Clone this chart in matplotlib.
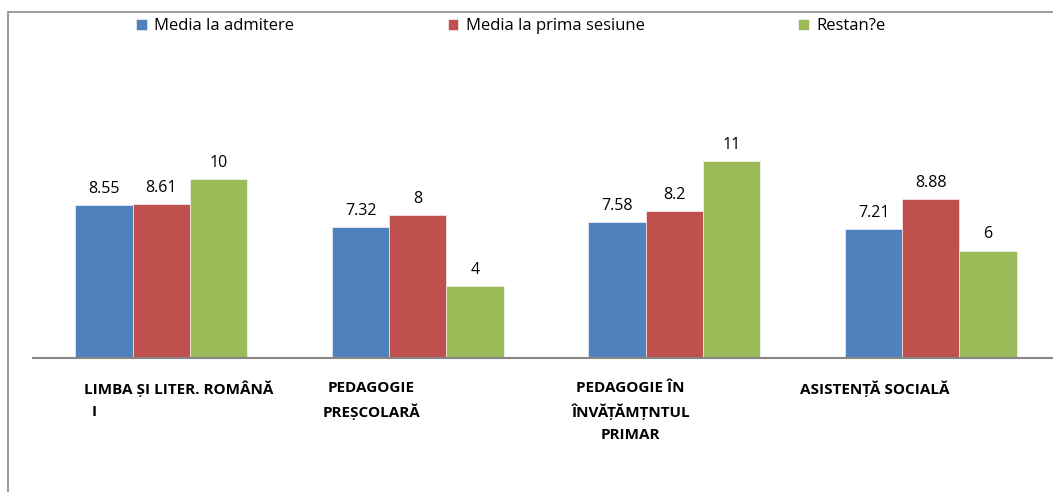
import matplotlib.pyplot as plt
from matplotlib.patches import Rectangle
import numpy as np

plt.rcParams['font.family'] = ['Open Sans', 'DejaVu Sans']

categories = ['LIMBA ȘI LITER. ROMÂNĂ\n  I', 'PEDAGOGIE\nPREȘCOLARĂ',
              'PEDAGOGIE ÎN\nÎNVĂȚĂMȚNTUL\nPRIMAR', 'ASISTENȚĂ SOCIALĂ']
series_names = ['Media la admitere', 'Media la prima sesiune', 'Restan?e']
media_admitere = [8.55, 7.32, 7.58, 7.21]
media_sesiune = [8.61, 8, 8.2, 8.88]
restante = [10, 4, 11, 6]
colors = ['#4F81BD', '#C0504D', '#9BBB59']

fig = plt.figure(figsize=(10.53, 4.92), dpi=100)
ax = fig.add_axes([33 / 1053, 1 - 358 / 492, (1059 - 33) / 1053, (358 - 36) / 492])

# outer chart border
fig.patches.append(Rectangle((8 / 1053, -0.1), 1.1, 1 - 12 / 492 + 0.1,
                             transform=fig.transFigure, fill=False,
                             edgecolor='#8c8c8c', linewidth=1.2))

x = np.arange(len(categories))
w = 0.223
data = [media_admitere, media_sesiune, restante]
for i, (vals, name, c) in enumerate(zip(data, series_names, colors)):
    bars = ax.bar(x + (i - 1) * w, vals, w, color=c, label=name,
                  edgecolor='white', linewidth=0.4)
    ax.bar_label(bars, fmt='%g', padding=6, fontsize=11.5)

ax.set_xlim(-0.5, 3.5)
ax.set_ylim(0, 18)
for s in ['top', 'right', 'left']:
    ax.spines[s].set_visible(False)
ax.spines['bottom'].set_color('#868686')
ax.spines['bottom'].set_linewidth(1.5)
ax.set_xticks([])
ax.set_yticks([])

# category labels
offsets = [-0.30, -0.18, -0.17, -0.22]
for i, (lab, off) in enumerate(zip(categories, offsets)):
    if i == 0:
        ax.text(i + off, -0.07, lab, transform=ax.get_xaxis_transform(),
                ha='left', va='top', fontsize=11, fontweight='bold',
                linespacing=1.7)
    else:
        ax.text(i + off, -0.07, lab, transform=ax.get_xaxis_transform(),
                ha='center', va='top', fontsize=11, fontweight='bold',
                multialignment='center', linespacing=1.7)

fig.legend(loc='center left', bbox_to_anchor=(121 / 1053, 1 - 26 / 492),
           ncol=3, frameon=False, fontsize=12, handlelength=0.65,
           handleheight=0.65, handletextpad=0.45, columnspacing=9.2)

fig.savefig('out.png', dpi=100)
